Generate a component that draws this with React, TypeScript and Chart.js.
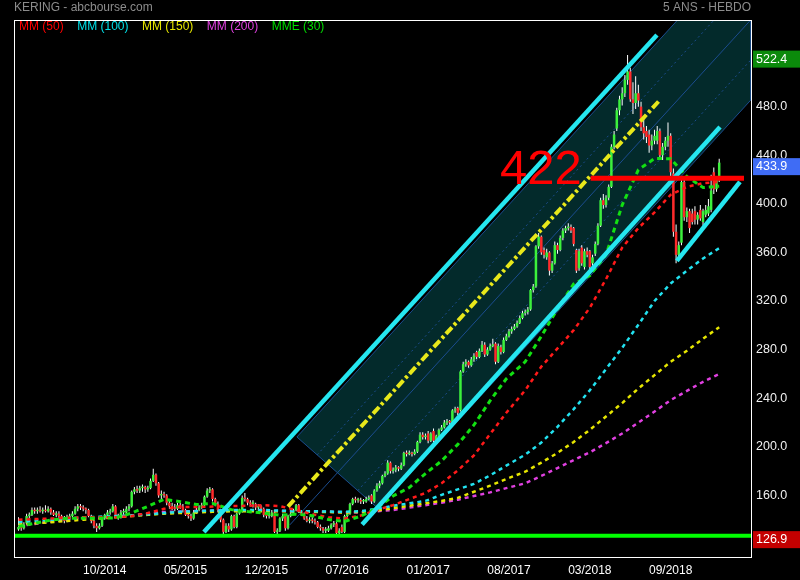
import { useEffect, useRef } from "react";
import { Chart, registerables } from "chart.js";

Chart.register(...registerables);

// ---- weekly candles (index 0 = first week shown) ----
const opens = [
  132,134,133,137,143,144,148,147,148,147, 148,147,149,146,144,145,143,140,139,142,
  143,145,149,151,150,149,148,143,139,135, 133,135,141,144,146,147,151,143,142,146,
  146,149,151,163,165,164,166,167,165,166, 172,177,170,160,161,160,154,151,150,149,
  152,151,148,144,143,141,146,148,150,152, 159,164,165,157,153,148,140,130,135,132,
  143,134,145,147,158,157,154,153,153,150, 151,149,144,143,143,146,130,131,141,143,
  133,143,145,148,152,147,144,141,139,140, 139,138,134,133,131,131,133,136,137,129,
  134,130,143,145,153,157,156,156,155,155, 157,160,155,164,168,170,176,178,187,180,
  181,183,182,185,195,194,195,194,196,204, 210,208,211,205,213,205,209,214,216,220,
  221,220,230,232,230,262,268,270,267,272, 278,274,279,284,276,280,283,285,270,282,
  278,288,291,295,297,299,302,306,310,311, 313,329,332,365,373,362,356,360,345,351,
  366,362,372,378,380,381,380,362,347,364, 348,361,361,351,359,367,382,403,399,405,
  414,447,462,477,486,491,502,509,486,483, 491,480,463,460,457,448,452,452,460,440,
  447,452,456,425,377,358,368,418,389,394, 392,394,387,395,385,391,392,395,426,412,
  420,
];
const highs = [
  142,137,138,145,146,150,150,150,151,150, 152,151,150,148,147,147,144,143,144,145,
  147,151,153,153,152,150,149,144,140,137, 137,142,145,148,149,153,152,145,148,149,
  151,153,164,167,168,168,169,168,168,174, 182,178,171,164,163,161,156,154,153,154,
  154,153,149,146,145,148,150,152,154,160, 166,167,166,158,155,149,141,137,137,144,
  144,146,149,160,162,158,156,156,154,153, 152,150,146,146,148,147,133,142,145,144,
  144,147,149,153,153,148,146,143,142,142, 141,139,136,134,134,135,137,139,138,133,
  136,144,147,154,158,159,158,158,157,159, 160,161,165,170,172,177,180,189,188,183,
  185,184,187,196,197,197,196,198,205,212, 212,211,213,212,215,210,215,218,222,223,
  222,231,233,233,263,270,272,271,274,277, 279,281,287,286,282,285,289,286,285,284,
  290,293,297,299,301,304,308,312,313,315, 330,334,366,376,374,364,363,361,353,369,
  368,374,380,382,384,383,381,363,363,366, 363,364,362,358,369,384,405,408,407,416,
  449,460,479,489,496,506,522.4,512,500,505, 498,484,470,464,461,457,461,464,462,450,
  455,467,458,429,383,369,422,420,397,396, 396,398,393,399,396,399,404,424,430,423,
  437,
];
const lows = [
  131,131,132,136,141,143,145,145,146,145, 146,146,144,143,142,141,139,137,138,140,
  142,144,147,148,147,145,142,137,133,130, 132,134,140,143,144,146,142,140,141,144,
  145,147,150,161,162,162,163,162,163,165, 171,168,158,157,158,152,149,148,147,148,
  149,146,143,141,139,140,145,147,149,151, 158,162,155,151,146,138,128,129,130,131,
  133,133,144,146,155,152,151,150,148,148, 147,142,141,141,142,129,128,130,139,131,
  132,142,144,147,146,143,140,138,137,137, 136,133,131,129,129,130,132,134,128,128,
  129,129,142,144,152,154,154,153,153,154, 156,153,154,163,166,169,175,177,178,178,
  179,180,181,184,192,193,192,193,195,203, 206,206,203,204,204,203,208,213,215,218,
  218,219,228,226,229,261,266,265,266,270, 272,273,278,274,275,279,282,268,269,276,
  277,287,290,293,296,298,301,305,308,309, 312,327,331,363,358,355,354,341,343,350,
  359,361,370,376,378,376,365,343,345,349, 346,356,346,349,357,366,381,396,397,403,
  413,445,460,473,481,488,498,484,474,478, 480,460,453,450,442,444,449,449,436,436,
  444,447,423,373,351,355,366,386,385,376, 383,383,383,386,382,389,390,393,408,410,
  418,
];
const closes = [
  134,133,136,143,144,148,147,148,147,148, 147,149,146,144,145,143,140,139,142,143,
  145,149,151,150,149,148,143,139,135,133, 135,141,144,146,147,151,143,142,146,146,
  149,151,163,165,164,166,167,165,166,172, 177,170,160,161,160,154,151,150,149,152,
  151,148,144,143,141,146,148,150,152,159, 164,165,157,153,148,140,130,135,132,143,
  134,145,147,158,157,154,153,153,150,151, 149,144,143,143,146,130,131,141,143,133,
  143,145,148,152,147,144,141,139,140,139, 138,134,133,131,131,133,136,137,129,131,
  130,143,145,153,157,156,156,155,155,157, 158,155,164,168,170,176,178,187,180,181,
  183,182,185,195,194,195,194,196,204,210, 208,209,205,211,205,209,214,216,220,221,
  220,230,231,228,262,268,270,267,272,275, 274,279,284,276,280,283,284,270,283,278,
  288,291,295,297,299,302,306,310,311,313, 329,332,365,373,360,358,360,345,351,366,
  362,372,378,380,381,378,367,345,361,351, 361,358,348,356,367,382,403,399,405,414,
  447,457,477,486,491,502,509,486,483,491, 485,463,458,455,448,452,456,460,440,447,
  452,456,426,377,358,366,418,389,394,380, 385,387,391,388,394,395,398,411,412,420,
  433.9,
];

// ---- moving averages, read every ~6 weeks ----
const maWeeks = [0,6,12,18,24,30,36,42,48,54,60,66,72,79,85,91,97,103,109,115,121,127,133,139,145,151,157,163,169,175,181,188,194,200,206,212,218,224,230,236,242,248,254,260];
const mm50 = [140,140.5,141,141.5,142,142,142,143,145.5,149,150.5,150.5,150.8,151.2,151.5,152,151.2,148,144.5,142,141,143.5,148,152,157,162,170,180.5,193,210.5,228,246.5,266,281,296,314.5,338,364,380,393,407.5,414,417,418];
const mm100 = [138,139,140,141,142,142.5,143,143.5,144.5,145.5,146.5,147,147.5,148,148,148,147.5,147,147,146.7,146.5,147,149,151.5,153.5,155.5,160.5,165,169.5,176.5,184.5,193.5,203.5,216.5,231,246.5,264,281.5,300.5,320,334.5,345,355,363.5];
const mm150 = [136,137,138,139,140,141,142,143,144,145,145.5,146,146.5,147,147,147,147,146.8,146.5,146.3,146,146.5,147.5,149.5,151.5,153.5,155.5,158,163,168,173.5,179.5,187,195,204,214,225,236,248,259,270,279,289,298.5];
const mm200 = [135,136.5,138.5,140,140.8,141.5,142.5,143.5,145,146.3,146.8,147.2,147.5,147.5,147.4,147.3,147.2,147,146.8,146.5,146.2,146,147,148,150,152,154,156.5,159.5,162.5,166,170,176,182.5,189,195.5,203,211,220,229,238.5,246,253.5,260];
const mme30 = [134.5,137,139.7,141.2,141.2,141.2,141.5,145.5,151,156.8,154.9,152.5,153.4,148.3,146.7,145.5,143.7,144.6,143.2,140.2,138.5,143,149.6,159.5,166.5,178,188.5,202,218,238,256,270,291,313.5,334,341,358,399,428,437.3,437.1,422.4,413.4,414.5];

// ---- drawn annotations (week, price) ----
const channelWeeks = [103.3, 271.8, 271.8, 133.4, 103.3];
const channelPrices = [208.1, 617.5, 485.6, 149.3, 208.1];
const midWeeks = [100.7, 271.8];
const midPrices = [135.8, 551.6];
const upperDotWeeks = [110.8, 271.8];
const upperDotPrices = [193.4, 584.6];
const lowerDotWeeks = [125.9, 271.8];
const lowerDotPrices = [164, 518.6];
const trendUpperWeeks = [68.8, 236.9];
const trendUpperPrices = [129.9, 539];
const trendLowerWeeks = [127.5, 260.3];
const trendLowerPrices = [136.1, 463.3];
const wedgeWeeks = [244.3, 267.7];
const wedgePrices = [353, 418];
const dashDotWeeks = [100, 238];
const dashDotPrices = [150.8, 485.5];
const resistanceWeeks = [212.3, 269.2];
const resistancePrice = 421;
const resistanceLabel = "422";
const supportPrice = 126.9;
const lastPrice = 433.9;
const highPrice = 522.4;

// ---- axes ----
const xTickWeeks = [32, 62, 92, 122, 152, 182, 212, 242];
const xTickLabels = ["10/2014", "05/2015", "12/2015", "07/2016", "01/2017", "08/2017", "03/2018", "09/2018"];
const yTicks = [160, 200, 240, 280, 320, 360, 400, 440, 480];
const legendLabels = ["MM (50)", "MM (100)", "MM (150)", "MM (200)", "MME (30)"];
const titleLeft = "KERING - abcbourse.com";
const titleRight = "5 ANS - HEBDO";

const FONT = "'Liberation Sans', Arial, Helvetica, sans-serif";
const C_MM50 = "#ff1a1a";
const C_MM100 = "#22e2f0";
const C_MM150 = "#e6e600";
const C_MM200 = "#e040e0";
const C_MME30 = "#12e012";
const legendColors = ["#ff0000", "#00e0e8", "#e6e600", "#e040e0", "#00dd00"];
const UP = "#3cf03c";
const DOWN = "#ff2a2a";
const CYAN = "#25e6f0";
const BLUE = "#1b4c8e";

const pts = (xs: number[], ys: number[]) => xs.map((x, k) => ({ x, y: ys[k] }));

const lineDs = (label: string, data: any[], color: string, width: number, dash: number[], order: number) => ({
  type: "line",
  label,
  data,
  borderColor: color,
  borderWidth: width,
  borderDash: dash,
  pointRadius: 0,
  fill: false,
  tension: 0,
  order,
  borderCapStyle: "butt",
});

const overlayPlugin = {
  id: "overlay",
  afterDraw(chart: any) {
    const { ctx, chartArea: a, scales } = chart;
    const xs = scales.x;
    const ys = scales.y;
    ctx.save();
    // frame
    ctx.strokeStyle = "#ffffff";
    ctx.lineWidth = 1;
    ctx.strokeRect(a.left + 0.5, a.top + 0.5, a.right - a.left, a.bottom - a.top - 1);
    // titles
    ctx.font = `12px ${FONT}`;
    ctx.textBaseline = "middle";
    ctx.fillStyle = "#8c8c8c";
    ctx.textAlign = "left";
    ctx.fillText(titleLeft, 14, 8);
    ctx.textAlign = "right";
    ctx.fillText(titleRight, a.right, 8);
    // legend
    ctx.textAlign = "left";
    let lx = a.left + 5;
    legendLabels.forEach((t, k) => {
      ctx.fillStyle = legendColors[k];
      ctx.fillText(t, lx, 27);
      lx += ctx.measureText(t).width + 13.5;
    });
    // 422 label
    ctx.font = `49px ${FONT}`;
    ctx.fillStyle = "#ff0000";
    ctx.textAlign = "right";
    ctx.textBaseline = "alphabetic";
    ctx.fillText(resistanceLabel, xs.getPixelForValue(resistanceWeeks[0]) - 9, ys.getPixelForValue(resistancePrice) + 6);
    // price boxes
    const box = (v: number, color: string) => {
      const yc = ys.getPixelForValue(v);
      ctx.fillStyle = color;
      ctx.fillRect(a.right + 2, yc - 4.5, 800 - a.right - 2, 17);
      ctx.fillStyle = "#ffffff";
      ctx.font = `12.5px ${FONT}`;
      ctx.textAlign = "left";
      ctx.textBaseline = "middle";
      ctx.fillText(v.toFixed(1), a.right + 5, yc + 4);
    };
    box(highPrice, "#0b8a0b");
    box(lastPrice, "#3f6cf5");
    box(supportPrice, "#c40000");
    ctx.restore();
  },
};

export default function App() {
  const ref = useRef<HTMLCanvasElement>(null);
  useEffect(() => {
    const canvas = ref.current;
    if (!canvas) return;
    Chart.defaults.font.family = FONT;
    const idx = closes.map((_, i) => i);
    const datasets: any[] = [
      {
        type: "line",
        label: "channel",
        data: pts(channelWeeks, channelPrices),
        borderColor: BLUE,
        borderWidth: 1,
        backgroundColor: "#032a2b",
        fill: "shape",
        pointRadius: 0,
        tension: 0,
        order: 100,
      },
      lineDs("mid", pts(midWeeks, midPrices), BLUE, 1, [], 99),
      lineDs("upperDot", pts(upperDotWeeks, upperDotPrices), BLUE, 1, [2, 3], 99),
      lineDs("lowerDot", pts(lowerDotWeeks, lowerDotPrices), BLUE, 1, [2, 3], 99),
      {
        type: "bar",
        label: "wick",
        data: idx.map((i) => ({ x: i, y: [lows[i], highs[i]] })),
        backgroundColor: "#ffffff",
        barThickness: 1,
        grouped: false,
        minBarLength: 1,
        inflateAmount: 0,
        borderWidth: 0,
        order: 60,
      },
      {
        type: "bar",
        label: "body",
        data: idx.map((i) => ({ x: i, y: [opens[i], closes[i]] })),
        backgroundColor: idx.map((i) => (closes[i] >= opens[i] ? UP : DOWN)),
        barThickness: 2.5,
        grouped: false,
        minBarLength: 1.5,
        inflateAmount: 0,
        borderWidth: 0,
        order: 59,
      },
      lineDs("MM200", pts(maWeeks, mm200), C_MM200, 2.5, [4, 4], 50),
      lineDs("MM150", pts(maWeeks, mm150), C_MM150, 2.5, [4, 4], 49),
      lineDs("MM100", pts(maWeeks, mm100), C_MM100, 2.5, [4, 4], 48),
      lineDs("MM50", pts(maWeeks, mm50), C_MM50, 2.5, [4, 4], 47),
      lineDs("MME30", pts(maWeeks, mme30), C_MME30, 3, [5, 4], 46),
      lineDs("dashdot", pts(dashDotWeeks, dashDotPrices), "#e8e81a", 4, [9, 3, 3, 3], 20),
      lineDs("trendUpper", pts(trendUpperWeeks, trendUpperPrices), CYAN, 4.5, [], 10),
      lineDs("trendLower", pts(trendLowerWeeks, trendLowerPrices), CYAN, 4.5, [], 10),
      lineDs("wedge", pts(wedgeWeeks, wedgePrices), CYAN, 4.5, [], 10),
      lineDs("resistance", pts(resistanceWeeks, [resistancePrice, resistancePrice]), "#ff0000", 5, [], 5),
      lineDs("support", pts([-1.67, 271.8], [supportPrice, supportPrice]), "#00ff00", 4, [], 4),
    ];
    const chart = new Chart(canvas, {
      type: "bar",
      data: { datasets },
      options: {
        responsive: false,
        devicePixelRatio: 1,
        animation: false,
        events: [],
        layout: { padding: { left: 14, top: 20, right: 0, bottom: 0 } },
        plugins: { legend: { display: false }, tooltip: { enabled: false }, title: { display: false } },
        scales: {
          x: {
            type: "linear",
            min: -1.67,
            max: 271.8,
            offset: false,
            grid: { display: false, drawTicks: false },
            border: { display: false },
            ticks: {
              color: "#ffffff",
              font: { size: 12, family: FONT },
              padding: 5,
              autoSkip: false,
              maxRotation: 0,
              callback: (_v: any, i: number) => xTickLabels[i] ?? "",
            },
            afterBuildTicks: (s: any) => {
              s.ticks = xTickWeeks.map((v) => ({ value: v }));
            },
            afterFit: (s: any) => {
              s.height = 22;
            },
          },
          y: {
            type: "linear",
            position: "right",
            min: 108.5,
            max: 551.3,
            grid: { display: false, drawTicks: false },
            border: { display: false },
            ticks: {
              color: "#f0f0f0",
              font: { size: 12.5, family: FONT },
              padding: 5,
              callback: (v: any) => Number(v).toFixed(1),
            },
            afterBuildTicks: (s: any) => {
              s.ticks = yTicks.map((v) => ({ value: v }));
            },
            afterFit: (s: any) => {
              s.width = 49;
            },
          },
        },
      } as any,
      plugins: [overlayPlugin],
    } as any);
    return () => chart.destroy();
  }, []);
  return (
    <div style={{ position: "absolute", left: 0, top: 0, width: 800, height: 580, background: "#000" }}>
      <canvas ref={ref} width={800} height={580} style={{ display: "block" }} />
    </div>
  );
}
